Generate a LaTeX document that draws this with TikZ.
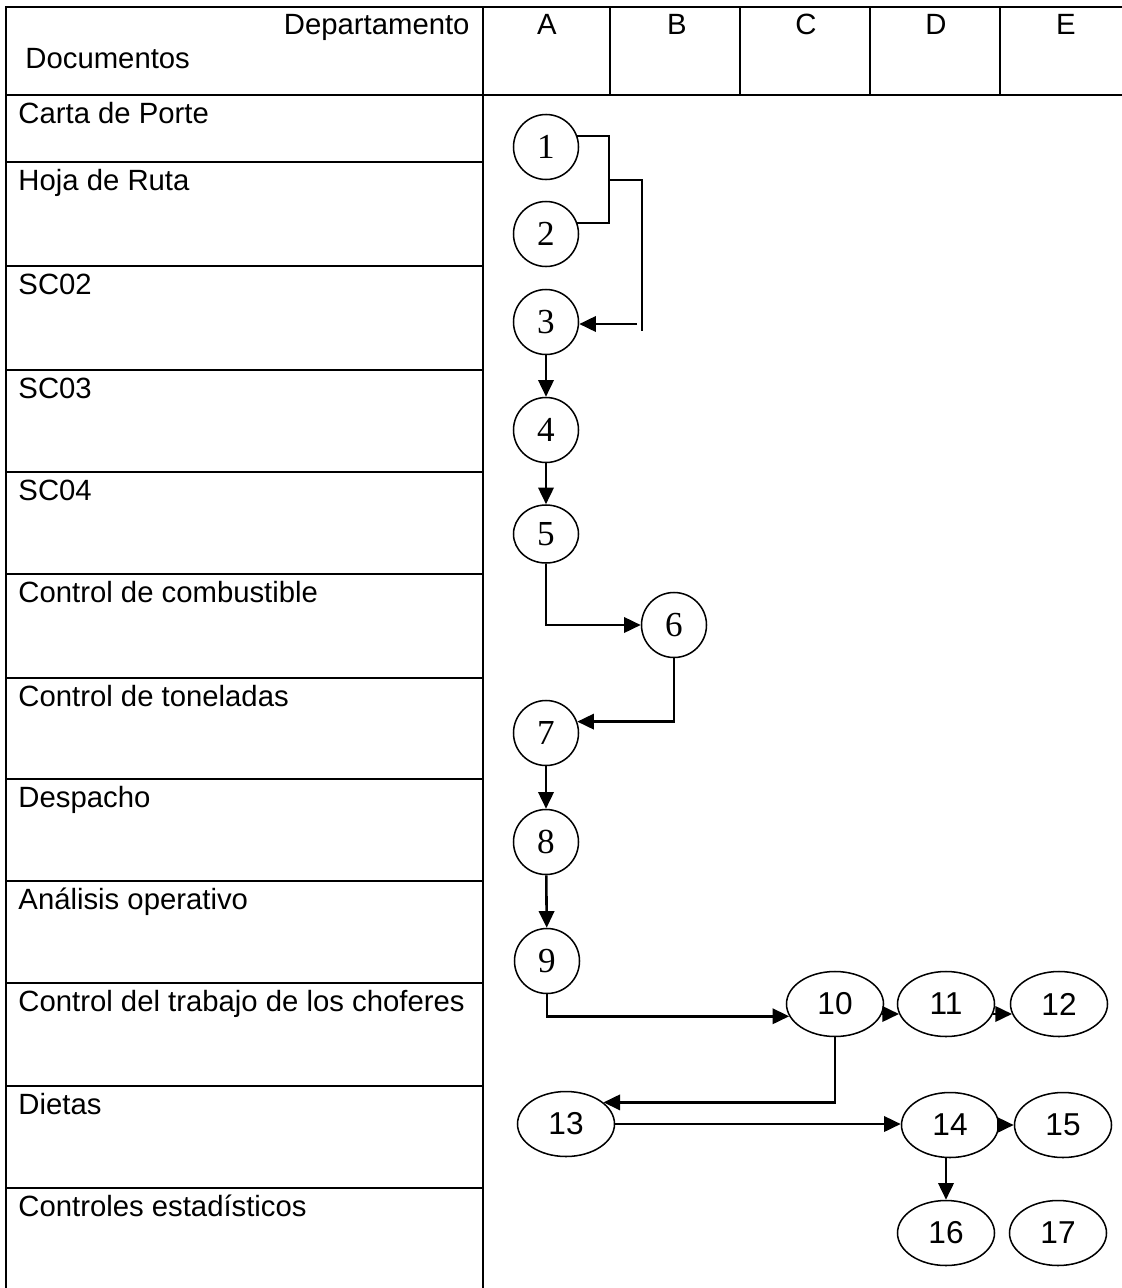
\documentclass[tikz,border=0pt]{standalone}
\usepackage{fontspec}
\setmainfont{Liberation Sans}
\newfontfamily\numfont{Liberation Serif}
\usetikzlibrary{arrows.meta, positioning, shapes.geometric}

\begin{document}
\begin{tikzpicture}[
    x=0.015cm, y=-0.015cm,
    font=\fontsize{12.5}{15}\selectfont,
    grid/.style={line width=1.05pt},
    rowlabel/.style={anchor=base west, inner sep=0pt},
    proc/.style={circle, draw, line width=0.65pt, minimum size=0.975cm, inner sep=0pt,
                 font=\fontsize{15}{17}\selectfont\numfont},
    procov/.style={ellipse, draw, line width=0.65pt, minimum width=1.455cm,
                   minimum height=0.975cm, inner sep=0pt, font=\fontsize{13.5}{15}\selectfont},
    link/.style={line width=0.75pt},
    arrow/.style={-{Triangle[length=2.5mm, width=2.3mm]}, line width=1.1pt}
]
    \useasboundingbox (0,0) rectangle (1122,1288);

    % table
    \draw[grid] (6,1288) -- (6,7) -- (1122,7);
    \draw[grid] (6,95) -- (1122,95);
    \draw[grid] (483,7) -- (483,1288);
    \foreach \x in {610,740,870,1000} \draw[grid] (\x,7) -- (\x,95);
    \foreach \y in {162,266,370,472,574,678,779,881,983,1086,1188} \draw[grid] (6,\y) -- (483,\y);

    \node[anchor=base east, inner sep=0pt] (dep) at (470,35) {Departamento};
    \node[rowlabel] (docs) at (25,68) {Documentos};
    \foreach \c/\x in {A/547,B/677,C/806,D/936,E/1066}
        \node[anchor=base, inner sep=0pt] (col\c) at (\x,35) {\c};

    \foreach \t/\y [count=\i] in {Carta de Porte/95, Hoja de Ruta/162, SC02/266, SC03/370,
        SC04/472, Control de combustible/574, Control de toneladas/678, Despacho/779,
        Análisis operativo/881, Control del trabajo de los choferes/983, Dietas/1086,
        Controles estadísticos/1188}
        \node[rowlabel] (doc\i) at (18,\y+28) {\t};

    % steps
    \node[proc] (n1) at (546,147) {1};
    \node[proc] (n2) at (546,234) {2};
    \node[proc] (n3) at (546,322) {3};
    \node[proc] (n4) at (546,430) {4};
    \node[proc, ellipse, minimum height=0.87cm] (n5) at (546,534) {5};
    \node[proc] (n6) at (674,625) {6};
    \node[proc] (n7) at (546,733) {7};
    \node[proc] (n8) at (546,842) {8};
    \node[proc] (n9) at (547,961) {9};
    \node[procov] (n10) at (835,1004) {10};
    \node[procov] (n11) at (946,1004) {11};
    \node[procov] (n12) at (1059,1004) {12};
    \node[procov] (n13) at (566,1124) {13};
    \node[procov] (n14) at (950,1125) {14};
    \node[procov] (n15) at (1063,1125) {15};
    \node[procov] (n16) at (946,1233) {16};
    \node[procov] (n17) at (1058,1233) {17};

    % connectors
    \coordinate (j12) at (609,180);
    \coordinate (j3) at (642,331);
    \coordinate (a3) at (637,324);
    \draw[link] (n1.20) -| (j12) |- (n2.20);
    \draw[link] (j12) -| (j3);
    \draw[arrow] (a3) -- (a3 -| n3.east);
    \draw[arrow] (n3) -- (n4);
    \draw[arrow] (n4) -- (n5);
    \draw[arrow] (n5.south) |- (n6.west);
    \draw[arrow] (n6.south) |- (n7.20);
    \draw[arrow] (n7) -- (n8);
    \draw[arrow] (n8) -- (n9);
    \draw[arrow] (n9.south) |- (n10.195);
    \draw[arrow] (n10.348) -- (n11.192);
    \draw[arrow] (n11.348) -- (n12.192);
    \draw[arrow] (n10.south) |- (n13.30);
    \draw[arrow] (n13.east) -- (n13.east -| n14.west);
    \draw[arrow] (n14.east) -- (n15.west);
    \draw[arrow] (n16.north |- n14.south) -- (n16.north);
\end{tikzpicture}
\end{document}
